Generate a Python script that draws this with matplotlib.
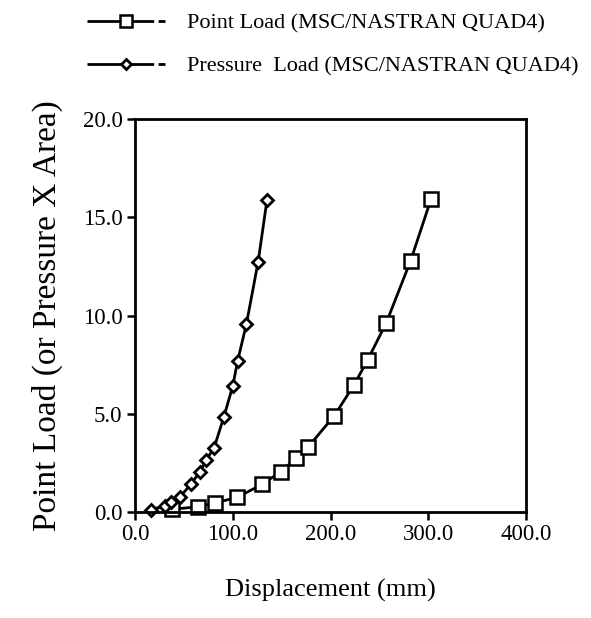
import matplotlib
matplotlib.use("Agg")
import matplotlib.pyplot as plt
from matplotlib.lines import Line2D
from matplotlib.ticker import FormatStrFormatter, MultipleLocator

# ---- data ----
point_disp = [37.5, 64, 82, 104, 130, 149, 165, 177, 204, 224, 238, 257, 282, 303]
point_load = [0.14, 0.26, 0.46, 0.74, 1.40, 2.05, 2.74, 3.30, 4.91, 6.46, 7.74, 9.62, 12.79, 15.95]

press_disp = [16, 31, 37, 46, 57, 66, 73, 81, 91, 100, 105, 114, 126, 135]
press_load = [0.12, 0.31, 0.51, 0.77, 1.40, 2.02, 2.65, 3.28, 4.85, 6.41, 7.69, 9.57, 12.74, 15.87]

series_labels = ["Point Load (MSC/NASTRAN QUAD4)", "Pressure  Load (MSC/NASTRAN QUAD4)"]
x_label = "Displacement (mm)"
y_label = "Point Load (or Pressure X Area)"

plt.rcParams['font.family'] = ['Liberation Serif', 'DejaVu Serif']

W, H = 591, 618
fig = plt.figure(figsize=(W / 100, H / 100), dpi=100)
ax = fig.add_axes([135 / W, 1 - 512 / H, (526 - 135) / W, (512 - 119) / H])

sq = dict(color='black', lw=2.0, marker='s', ms=9.5, mfc='white', mec='black', mew=1.8)
dm = dict(color='black', lw=2.0, marker='D', ms=6.5, mfc='white', mec='black', mew=2.0)

ax.plot(point_disp, point_load, clip_on=False, **sq)
ax.plot(press_disp, press_load, clip_on=False, **dm)

ax.set_xlim(0, 400)
ax.set_ylim(0, 20)
ax.xaxis.set_major_locator(MultipleLocator(100))
ax.yaxis.set_major_locator(MultipleLocator(5))
ax.xaxis.set_major_formatter(FormatStrFormatter('%.1f'))
ax.yaxis.set_major_formatter(FormatStrFormatter('%.1f'))
ax.tick_params(direction='out', length=6, width=1.8, labelsize=16.5, pad=3)
for s in ax.spines.values():
    s.set_linewidth(2.0)

ax.set_xlabel(x_label, fontsize=19, labelpad=24)
ax.set_ylabel(y_label, fontsize=24, labelpad=14)

# legend handles: solid line with a small trailing dash, as in the reference
ls_leg = (0, (24, 1.6, 2.6, 60))
h1 = Line2D([], [], linestyle=ls_leg, **sq)
h2 = Line2D([], [], linestyle=ls_leg, **dm)
h1.set_markersize(8)
h2.set_markersize(5.5)
fig.legend([h1, h2], series_labels, loc='upper left', bbox_to_anchor=(76 / W, 1 - 2 / H),
           frameon=False, fontsize=16, handlelength=3.5, handletextpad=1.0,
           labelspacing=1.0, borderpad=0)

fig.savefig('out.png', dpi=100)
